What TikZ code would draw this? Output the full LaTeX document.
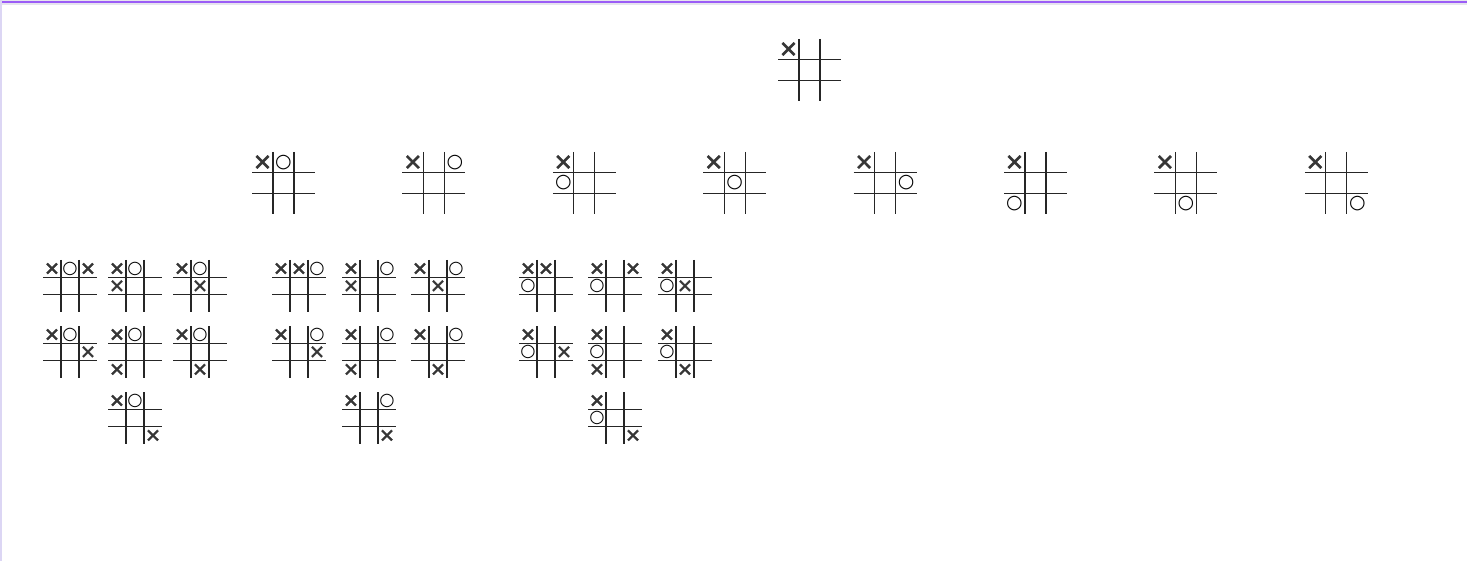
\documentclass[tikz,border=0pt]{standalone}
\usepackage{fontspec}
\newfontfamily\markfont{DejaVu Sans}
\newfontfamily\xmarkfont[FakeBold=1.4]{DejaVu Sans}

\definecolor{barpurple}{HTML}{9B5CF6}
\definecolor{barlight}{HTML}{E6E4EE}
\definecolor{edgelav}{HTML}{DCD6F4}
\definecolor{xgrey}{HTML}{363636}

\newcommand{\symx}{✕}
\newcommand{\symo}{○}

% name, left, top, cell width, cell height, x size, o size, cell/mark list
\newcommand{\tttboard}[8]{%
  \begin{scope}[shift={(#2,#3)}]
    \draw[gridline] (#4,0) -- ++(0,3*#5) (2*#4,0) -- ++(0,3*#5)
                    (0,#5) -- ++(3*#4,0) (0,2*#5) -- ++(3*#4,0);
    \foreach \k/\m in {#8} {
      \pgfmathtruncatemacro\col{mod(\k,3)}
      \pgfmathtruncatemacro\row{div(\k,3)}
      \if\m x
        \node[xmark=#6] (#1-\k) at ({(\col+0.5)*#4},{(\row+0.5)*#5+0.5}) {\symx};
      \else
        \node[omark=#7] (#1-\k) at ({(\col+0.5)*#4},{(\row+0.5)*#5}) {\symo};
      \fi
    }
  \end{scope}}

\tikzset{
  gridline/.style={line width=1.1pt, black!85},
  xmark/.style={inner sep=0pt, text=xgrey, font=\xmarkfont\fontsize{#1}{#1}\selectfont},
  omark/.style={inner sep=0pt, text=black, font=\markfont\fontsize{#1}{#1}\selectfont},
}

\begin{document}
\begin{tikzpicture}[x=1pt, y=-1pt]
  %frame
  \useasboundingbox (0,0) rectangle (1467,561);
  \fill[barlight] (0,0) rectangle (1467,5);
  \fill[barpurple] (0,1) rectangle (1467,3.3);
  \fill[edgelav] (0,0) rectangle (1.5,561);

  %first move
  \tttboard{top}{778}{39}{21}{20.7}{23}{19}{0/x}

  %answers of o
  \foreach \i in {1,...,8} {
    \pgfmathsetmacro\lft{252+(\i-1)*150.4}
    \tttboard{r\i}{\lft}{152}{21}{20.7}{23}{19}{0/x,\i/o}
  }

  %o in the top middle
  \foreach \l/\t/\c in {43/260/2, 108/260/3, 173/260/4,
                        43/326/5, 108/326/6, 173/326/7, 108/392/8} {
    \tttboard{a\c}{\l}{\t}{18}{17.4}{19}{17.5}{0/x,1/o,\c/x}
  }

  %o in the top right
  \foreach \l/\t/\c in {272/260/1, 342/260/3, 411/260/4,
                        272/326/5, 342/326/6, 411/326/7, 342/392/8} {
    \tttboard{b\c}{\l}{\t}{18}{17.4}{19}{17.5}{0/x,2/o,\c/x}
  }

  %o in the middle left
  \foreach \l/\t/\c in {519/260/1, 588/260/2, 658/260/4,
                        519/326/5, 588/326/6, 658/326/7, 588/392/8} {
    \tttboard{c\c}{\l}{\t}{18}{17.4}{19}{17.5}{0/x,3/o,\c/x}
  }
\end{tikzpicture}
\end{document}
